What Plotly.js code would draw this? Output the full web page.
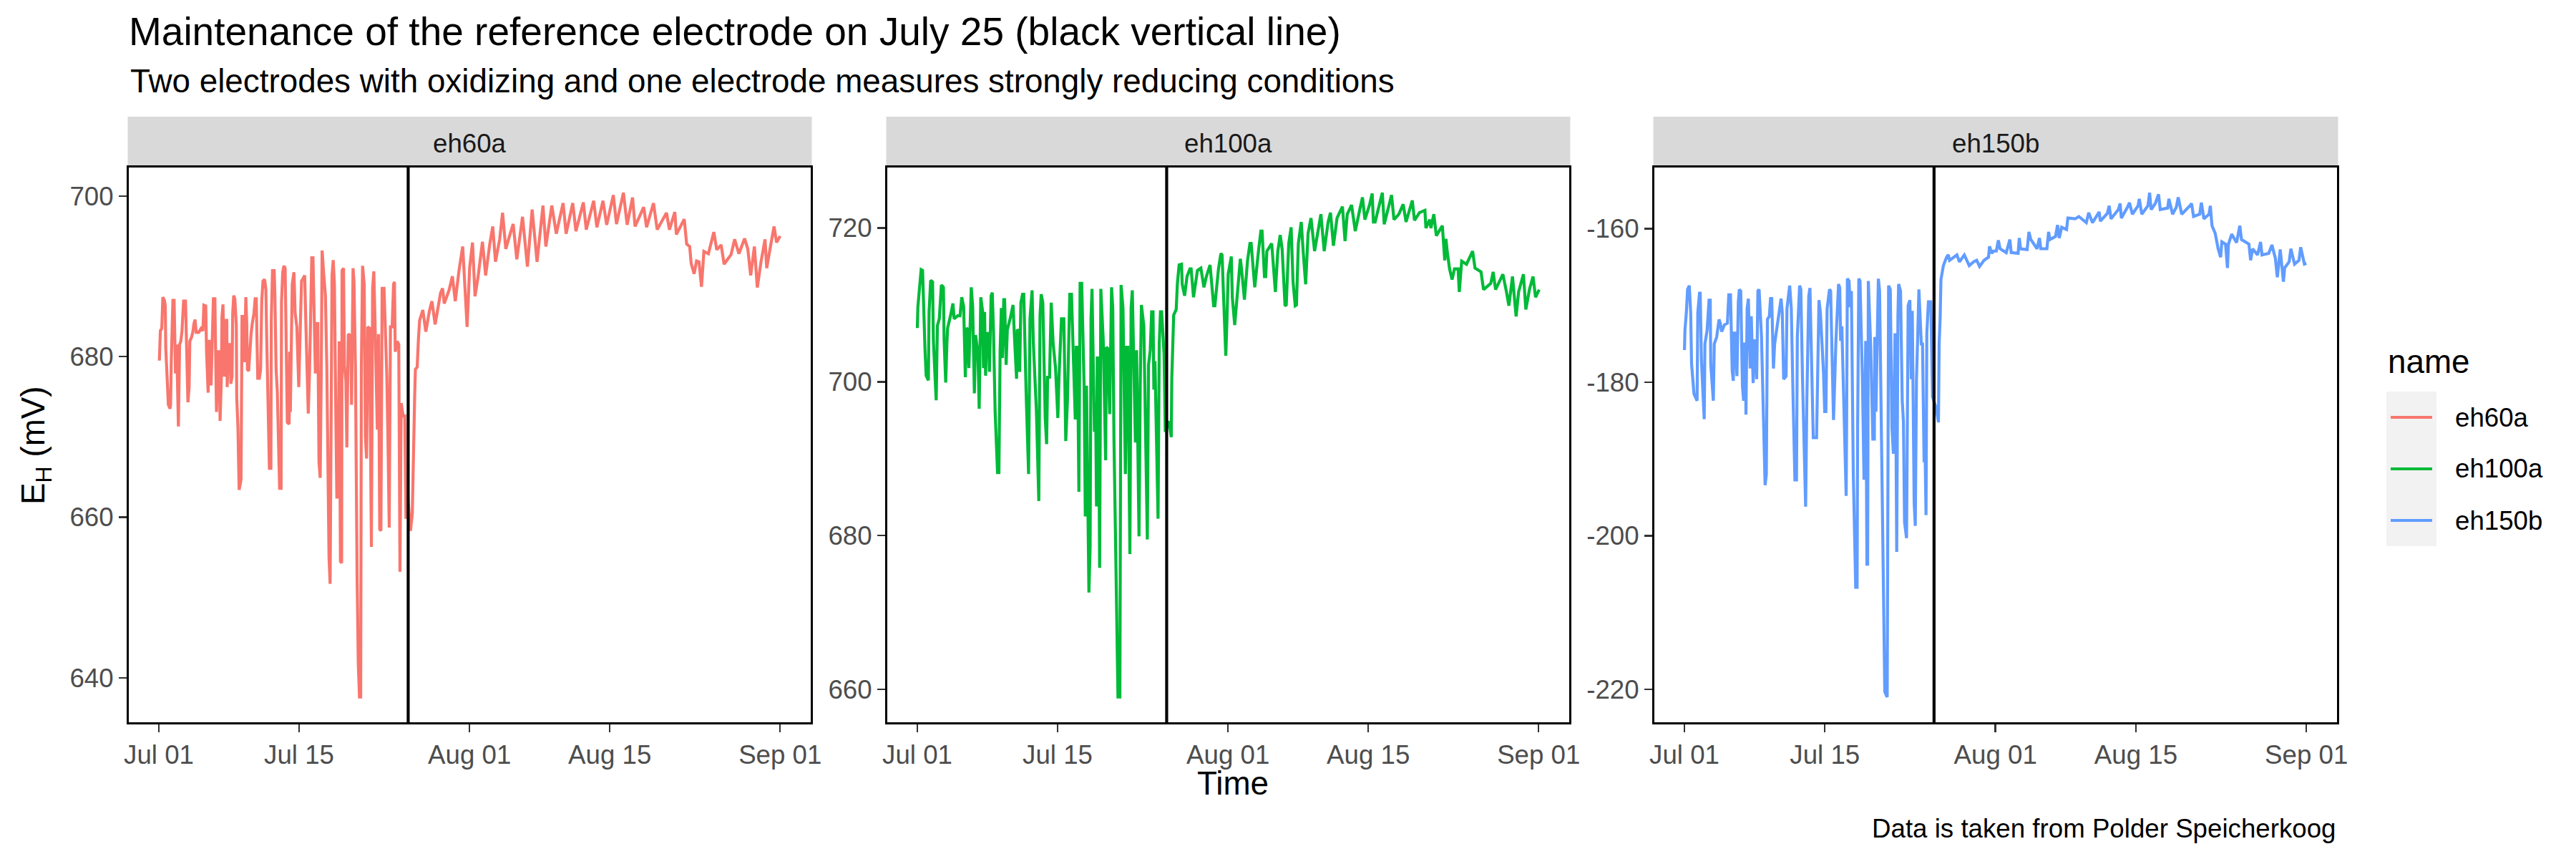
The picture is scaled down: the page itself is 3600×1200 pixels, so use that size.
<!DOCTYPE html>
<html>
<head>
<meta charset="utf-8">
<script src="https://cdn.plot.ly/plotly-3.0.1.min.js"></script>
<style>
html,body{margin:0;padding:0;background:#ffffff;}
#chart{width:3600px;height:1200px;}
</style>
</head>
<body>
<div id="chart"></div>
<script>
// ---------------- DATA ----------------
// time is given as days since 2019-07-01 00:00, values in mV
const seriesNames = ['eh60a', 'eh100a', 'eh150b'];
const tickLabels = ['Jul 01', 'Jul 15', 'Aug 01', 'Aug 15', 'Sep 01'];
const tickDays = [0, 14, 31, 45, 62];
const maintenanceDay = 24.88; // July 25, evening

const days60 = [
0.05,0.15,0.29,0.40,0.55,0.64,0.69,0.83,0.95,1.12,
1.17,1.24,1.31,1.40,1.52,1.59,1.66,1.78,1.95,2.07,
2.19,2.31,2.38,2.47,2.66,2.73,2.78,2.90,3.02,3.09,
3.26,3.38,3.50,3.61,3.73,3.97,4.21,4.40,4.49,4.68,
4.76,4.85,4.92,4.99,5.11,5.21,5.35,5.44,5.59,5.68,
5.75,5.87,5.99,6.11,6.23,6.30,6.40,6.54,6.66,6.78,
6.82,6.94,7.11,7.18,7.30,7.37,7.47,7.58,7.73,7.77,
7.89,8.01,8.20,8.30,8.44,8.54,8.68,8.77,8.84,8.96,
9.08,9.20,9.32,9.49,9.61,9.72,9.80,9.87,10.03,10.15,
10.27,10.39,10.56,10.68,10.77,10.87,10.94,11.03,11.18,11.22,
11.34,11.51,11.58,11.70,11.82,11.94,12.05,12.20,12.24,12.36,
12.48,12.60,12.72,12.82,13.00,13.05,13.12,13.24,13.31,13.48,
13.60,13.77,13.96,14.15,14.24,14.43,14.55,14.67,14.79,14.91,
15.03,15.15,15.26,15.38,15.50,15.62,15.74,15.86,15.98,16.10,
16.21,16.29,16.45,16.62,16.76,16.86,16.98,17.09,17.21,17.28,
17.40,17.52,17.64,17.76,17.88,18.00,18.12,18.24,18.28,18.43,
18.52,18.66,18.76,18.90,19.14,19.23,19.38,19.47,19.62,19.71,
19.78,19.90,20.02,20.14,20.16,20.21,20.33,20.49,20.61,20.73,
20.85,21.04,21.09,21.21,21.33,21.45,21.56,21.68,21.80,21.92,
22.04,22.16,22.28,22.47,22.63,22.75,22.87,22.99,23.11,23.28,
23.42,23.51,23.59,23.78,23.94,24.01,24.06,24.18,24.37,24.54,
24.66,24.77,
25.11,25.29,25.41,25.53,25.60,25.78,25.90,26.02,26.34,26.64,
27.00,27.25,27.57,28.11,28.31,28.48,28.97,29.29,29.58,29.95,
30.32,30.62,30.76,31.01,31.30,31.55,31.84,32.29,32.61,33.02,
33.32,33.59,34.01,34.30,34.62,35.11,35.36,35.72,36.29,36.78,
37.25,37.74,38.33,38.62,39.21,39.66,40.34,40.64,41.30,41.62,
42.36,42.65,43.39,43.71,44.32,44.69,45.35,45.67,46.36,46.73,
47.27,47.52,48.38,48.67,49.36,49.73,50.66,50.95,51.49,51.64,
52.43,52.67,52.97,53.12,53.41,53.66,53.90,54.15,54.39,54.84,
55.38,55.67,56.11,56.41,57.10,57.46,57.88,58.45,58.77,59.06,
59.43,59.72,60.09,60.49,60.66,61.03,61.39,61.64,62.00
];
const eh60a = [
679.5,683.2,683.5,687.4,687.0,686.3,681.0,676.4,674.0,673.5,
674.0,679.5,685.0,687.0,687.0,681.9,677.9,681.5,671.3,681.5,
681.9,683.2,685.4,686.9,686.9,683.2,679.0,674.3,676.2,681.9,
682.4,683.0,684.1,684.6,683.0,683.0,683.5,683.2,686.4,686.3,
680.6,676.6,675.5,681.9,681.9,676.4,681.5,687.2,687.2,677.9,
673.1,680.6,680.6,672.0,677.0,685.0,686.5,677.5,684.5,684.5,
676.2,681.5,681.5,676.6,677.5,685.4,687.6,687.2,683.9,674.9,
671.3,663.4,664.7,685.0,685.0,679.3,687.4,684.1,678.4,678.2,
681.5,682.8,684.1,685.4,687.2,687.2,681.5,677.3,677.3,678.4,
687.0,689.4,689.6,688.3,681.9,676.4,671.8,666.1,666.1,684.5,
690.7,690.7,687.6,678.4,675.7,668.2,663.6,663.6,686.8,690.5,
691.3,691.0,682.4,671.8,671.6,680.6,673.1,681.5,689.0,690.5,
685.4,683.7,676.2,685.4,689.4,689.8,690.1,684.1,677.5,672.9,
677.9,687.0,692.3,692.3,685.9,677.9,684.1,684.1,666.9,664.9,
678.8,693.2,690.3,687.6,678.8,662.7,655.0,651.7,678.8,690.1,
692.0,689.0,674.9,662.5,662.5,681.9,654.5,654.3,690.7,691.0,
678.8,677.0,668.7,682.8,682.6,674.0,691.0,689.4,678.4,654.5,
652.8,641.8,637.6,637.6,667.3,678.8,691.3,689.0,670.0,667.3,
683.7,683.5,673.5,656.3,688.5,690.6,685.0,678.0,670.9,682.8,
658.5,658.3,688.5,688.5,682.4,677.5,669.1,658.7,683.7,683.7,
689.0,689.3,680.6,681.9,681.5,668.2,653.2,674.2,672.6,672.6,
659.8,663.8,
658.3,660.4,670.8,675.2,678.4,678.7,682.1,684.5,685.8,683.1,
685.7,686.9,684.0,687.9,688.5,686.6,688.3,690.0,686.9,690.7,
693.7,687.5,683.7,691.0,694.2,687.5,689.8,694.3,690.1,694.0,
696.2,691.8,694.6,697.9,693.4,695.5,696.5,692.1,697.4,691.2,
698.3,691.8,698.8,693.7,698.8,695.3,699.1,695.3,699.1,695.6,
699.2,695.8,699.4,696.1,699.4,696.4,700.1,696.5,700.4,696.4,
699.8,696.2,698.6,696.1,699.1,695.8,697.9,695.8,698.0,695.2,
697.1,694.0,693.7,691.6,690.3,691.9,691.8,688.7,693.1,692.8,
695.5,693.3,693.9,691.5,692.7,694.6,692.8,694.7,693.4,690.1,
693.7,688.6,691.8,694.6,691.0,693.7,696.2,694.2,695.0
];

const days100 = [
0.00,0.05,0.21,0.38,0.52,0.62,0.76,0.88,1.10,1.17,
1.24,1.33,1.52,1.60,1.76,1.88,2.00,2.19,2.40,2.60,
2.67,2.83,2.95,3.02,3.31,3.55,3.67,4.02,4.26,4.43,
4.62,4.79,4.90,5.05,5.14,5.29,5.38,5.52,5.69,5.81,
6.05,6.17,6.33,6.52,6.60,6.71,6.81,6.93,7.12,7.19,
7.36,7.48,7.60,7.76,8.00,8.14,8.26,8.38,8.48,8.62,
8.71,8.86,8.98,9.26,9.55,9.67,9.90,9.98,10.14,10.21,
10.33,10.50,10.62,10.86,11.10,11.24,11.45,11.57,11.88,12.12,
12.24,12.36,12.52,12.76,12.90,13.00,13.19,13.36,13.55,13.79,
14.02,14.14,14.38,14.62,14.81,14.98,15.21,15.38,15.62,15.76,
15.86,15.98,16.12,16.24,16.40,16.64,16.76,16.88,17.12,17.24,
17.33,17.43,17.67,17.79,17.88,17.95,18.07,18.19,18.31,18.55,
18.79,18.86,19.02,19.19,19.38,19.50,19.62,19.81,19.90,20.02,
20.21,20.26,20.33,20.52,20.76,20.88,21.00,21.21,21.33,21.45,
21.64,21.76,21.88,22.12,22.24,22.36,22.60,22.83,22.95,23.07,
23.24,23.38,23.52,23.60,23.71,24.02,24.14,24.26,24.38,24.62,
24.74,
25.10,25.34,25.39,25.46,25.54,25.58,25.83,25.95,26.12,
26.36,26.43,26.67,26.91,27.20,27.32,27.56,27.95,28.29,28.60,
28.84,29.21,29.57,29.69,30.05,30.29,30.41,30.54,30.78,30.90,
31.02,31.33,31.43,31.67,31.86,32.23,32.35,32.64,32.95,33.19,
33.31,33.67,34.04,34.28,34.40,34.64,34.76,34.88,35.36,35.73,
35.97,36.21,36.40,36.69,36.81,37.06,37.30,37.49,37.71,37.83,
38.02,38.31,38.50,38.75,38.99,39.28,39.64,40.07,40.27,40.60,
40.99,41.23,41.52,41.88,42.42,42.68,42.90,43.33,43.70,44.18,
44.42,44.66,45.14,45.39,45.51,45.68,46.11,46.40,46.59,47.08,
47.32,47.56,48.04,48.48,48.77,49.39,49.61,50.10,50.65,50.75,
51.13,51.25,51.54,51.79,52.39,52.63,52.75,52.87,53.11,53.36,
53.60,53.96,54.08,54.32,54.80,55.41,55.65,56.25,56.50,57.22,
57.46,57.70,58.19,58.43,58.79,59.03,59.39,59.75,60.00,60.48,
60.72,61.08,61.44,61.69,62.05
];
const eh100a = [
707.0,709.7,712.1,714.6,714.5,709.6,704.3,700.8,700.2,709.1,
711.6,713.2,713.0,705.4,700.8,697.6,707.3,708.2,712.6,712.3,
705.4,699.9,705.0,707.0,708.6,710.2,708.2,708.6,708.6,711.0,
709.8,700.6,707.0,706.8,701.8,710.0,712.3,709.8,698.5,706.1,
703.6,696.5,711.0,709.1,701.8,709.1,700.8,706.4,706.1,701.3,
711.2,711.6,706.4,696.2,688.2,688.2,704.1,709.6,703.1,710.7,
710.7,702.2,706.8,708.2,710.0,706.4,700.4,706.8,706.6,701.3,
710.3,711.4,711.4,698.3,688.0,708.2,711.9,705.2,696.2,684.5,
708.6,711.4,710.3,695.3,691.9,700.6,700.6,710.3,705.0,701.8,
695.3,700.8,708.2,708.2,692.3,697.6,711.4,711.4,699.9,695.1,
704.5,704.5,685.7,712.8,712.8,699.5,682.5,699.5,672.6,678.6,
708.2,712.1,693.5,697.2,683.8,703.1,703.1,675.8,712.1,705.4,
689.8,704.5,704.3,695.8,712.3,709.6,692.6,675.1,663.6,659.0,
659.0,707.3,712.6,709.6,688.0,704.5,704.5,677.6,709.6,711.9,
697.6,692.1,704.1,679.9,699.5,710.0,707.3,689.8,679.5,702.2,
704.1,709.1,709.1,699.0,702.7,682.2,705.0,709.1,709.1,703.6,
693.5,
694.9,692.8,700.4,703.0,705.7,708.7,709.4,712.8,715.2,
715.3,712.7,711.2,713.7,714.7,714.7,711.0,714.5,714.8,712.3,
713.7,715.2,709.9,709.9,714.7,716.7,716.5,711.7,703.4,708.2,
714.0,716.3,711.0,707.4,710.3,716.0,714.7,710.7,715.8,718.0,
718.0,712.3,717.0,719.6,719.6,713.7,713.7,717.0,718.0,711.7,
717.0,719.1,717.3,710.0,709.9,718.0,720.1,713.0,709.9,710.0,
718.0,720.8,717.0,712.7,719.3,721.3,717.0,720.3,721.8,717.0,
720.8,722.0,717.7,721.3,722.8,718.3,721.8,723.0,719.6,722.6,
724.0,721.1,723.1,724.5,720.8,720.8,723.1,724.6,720.5,723.0,
724.3,721.1,721.8,723.1,720.8,723.6,721.0,722.0,722.3,720.0,
721.1,720.0,721.8,719.0,720.3,715.8,718.6,717.0,714.7,713.3,
714.7,714.7,711.7,715.7,715.3,717.0,714.8,714.3,712.0,712.8,
714.3,712.0,713.3,714.0,711.7,709.9,713.7,708.5,711.7,714.0,
709.4,712.0,713.7,711.0,712.0
];

const days150 = [
0.00,0.05,0.19,0.31,0.48,0.62,0.71,0.95,1.26,1.33,
1.50,1.57,1.69,1.85,1.97,2.04,2.26,2.45,2.57,2.62,
2.81,2.88,2.97,3.21,3.45,3.57,3.71,3.99,4.28,4.42,
4.59,4.76,4.87,4.95,5.06,5.23,5.37,5.47,5.61,5.78,
5.90,5.97,6.09,6.13,6.25,6.37,6.56,6.66,6.85,6.97,
7.09,7.20,7.32,7.44,7.68,7.85,8.04,8.16,8.27,8.46,
8.58,8.70,8.87,8.99,9.23,9.63,9.75,9.89,10.13,10.22,
10.49,10.65,10.82,11.01,11.17,11.25,11.48,11.60,11.77,11.96,
12.08,12.20,12.39,12.51,12.67,12.84,13.17,13.31,13.41,13.55,
13.86,13.98,14.10,14.22,14.46,14.57,14.76,14.86,15.10,15.36,
15.48,15.57,15.69,15.93,16.12,16.17,16.24,16.41,16.52,16.64,
16.83,17.07,17.21,17.26,17.38,17.50,17.74,17.90,18.07,18.19,
18.26,18.33,18.57,18.78,18.93,18.97,19.09,19.21,19.33,19.45,
19.69,19.85,19.97,20.21,20.28,20.35,20.52,20.68,20.83,20.99,
21.07,21.16,21.28,21.35,21.54,21.71,21.83,21.94,22.14,22.23,
22.30,22.47,22.61,22.71,22.90,23.01,23.13,23.25,23.37,23.61,
23.73,23.89,23.97,24.08,24.16,24.32,24.56,24.73,
25.08,25.32,
25.39,25.49,25.57,25.69,25.81,26.13,26.30,26.43,26.79,27.16,
27.41,27.90,28.39,28.83,29.13,29.42,29.87,30.31,30.41,30.65,
30.80,31.09,31.29,31.46,32.08,32.44,32.57,33.26,33.38,33.50,
34.16,34.34,34.53,35.15,35.39,35.52,36.13,36.30,36.42,36.99,
37.19,37.36,37.60,38.09,38.22,38.95,39.32,40.06,40.30,40.67,
41.34,41.46,42.15,42.34,42.52,43.25,43.43,43.55,44.16,44.36,
44.65,45.22,45.34,45.59,46.20,46.37,46.52,46.94,47.26,47.43,
48.17,48.29,48.66,49.03,49.22,49.57,50.45,50.55,50.75,51.36,
51.53,51.78,52.29,52.42,52.59,52.91,53.20,53.45,53.57,53.94,
54.13,54.23,54.55,55.04,55.36,55.53,56.27,56.44,56.64,57.13,
57.43,57.57,58.24,58.56,58.90,59.10,59.39,59.71,59.83,60.28,
60.45,60.82,61.26,61.43,61.80,62.00
];
const eh150b = [
-175.8,-173.2,-170.9,-167.9,-167.4,-170.9,-177.6,-181.5,-182.4,-170.9,
-168.4,-168.4,-177.1,-182.6,-184.8,-175.0,-173.2,-169.3,-169.3,-177.6,
-180.5,-182.4,-175.0,-174.1,-171.8,-172.3,-173.4,-172.5,-172.3,-168.6,
-168.6,-178.5,-179.8,-173.6,-173.6,-179.2,-169.5,-167.9,-168.1,-180.5,
-182.4,-175.0,-175.0,-184.2,-170.4,-169.1,-178.2,-171.4,-180.1,-174.6,
-174.6,-179.6,-168.1,-167.9,-174.1,-184.2,-193.4,-192.0,-171.8,-171.4,
-169.1,-169.1,-178.2,-175.0,-172.7,-169.1,-170.9,-179.6,-179.2,-170.4,
-167.4,-170.4,-181.5,-192.7,-192.7,-174.1,-167.4,-167.9,-179.6,-191.8,
-196.2,-182.4,-168.8,-167.7,-175.5,-187.2,-187.2,-173.2,-169.3,-170.9,
-178.7,-183.8,-183.8,-170.4,-167.9,-168.1,-180.1,-184.9,-174.6,-167.2,
-167.7,-174.6,-172.7,-183.8,-194.8,-184.2,-166.5,-166.8,-170.2,-168.1,
-191.8,-206.7,-206.7,-186.3,-166.5,-166.8,-179.6,-192.7,-174.6,-203.7,
-203.7,-166.8,-175.5,-187.4,-187.4,-174.1,-183.8,-175.0,-166.5,-168.1,
-192.5,-204.0,-220.3,-221.0,-179.6,-167.4,-167.9,-185.8,-189.3,-173.6,
-183.8,-202.1,-171.4,-167.2,-168.1,-182.4,-185.1,-198.2,-200.3,-185.1,
-170.0,-169.3,-179.6,-170.7,-195.7,-198.7,-179.6,-174.1,-167.9,-175.0,
-175.0,-190.4,-187.4,-197.3,-173.6,-169.5,-169.5,-181.9,
-183.3,-185.2,
-175.0,-171.6,-166.6,-165.7,-164.8,-163.7,-163.4,-164.1,-163.7,-163.4,
-164.3,-163.4,-164.8,-164.3,-164.1,-164.9,-164.1,-163.7,-162.3,-163.2,
-162.9,-162.9,-161.5,-162.6,-163.1,-161.4,-163.1,-163.2,-161.2,-162.6,
-162.7,-160.4,-161.4,-162.6,-161.2,-162.6,-162.6,-160.4,-161.4,-161.0,
-159.5,-161.2,-159.8,-160.1,-158.6,-158.7,-158.4,-159.2,-157.9,-159.2,
-157.8,-159.0,-158.0,-157.0,-158.7,-157.5,-156.7,-158.6,-157.2,-156.6,
-158.1,-157.0,-156.1,-158.1,-157.0,-155.3,-157.5,-156.7,-155.5,-157.5,
-157.3,-156.1,-158.1,-157.2,-155.9,-158.1,-156.9,-156.7,-158.4,-158.1,
-156.6,-158.7,-158.1,-157.0,-159.6,-160.6,-162.6,-163.7,-161.7,-162.0,
-165.1,-162.0,-160.7,-161.8,-159.6,-161.4,-162.0,-164.1,-162.6,-163.4,
-161.7,-163.4,-163.2,-162.1,-163.8,-166.3,-162.7,-166.9,-165.1,-164.3,
-162.6,-164.6,-164.1,-162.4,-164.6,-164.5
];

// ---------------- STYLE / LAYOUT ----------------
const seriesColors = ['#F8766D', '#00BA38', '#619CFF'];
const allDays = [days60, days100, days150];
const allVals = [eh60a, eh100a, eh150b];
allDays.forEach((d, i) => { if (d.length !== allVals[i].length) console.error('length mismatch', seriesNames[i], d.length, allVals[i].length); });

const W = 3600, H = 1200;
const FONT = 'Liberation Sans, Arial, Helvetica, sans-serif';
const start = Date.UTC(2019, 6, 1);
const DAY = 86400000;
const toMs = d => start + d * DAY;
const px = x => x / W;
const py = y => 1 - y / H;

const panelPx = [[180, 1133], [1240, 2193], [2312, 3266]];
const plotTop = 234, plotBottom = 1009, stripTop = 163;
const lineW = 4.2;

const traces = [];
const shapes = [];
const annotations = [];
const layout = {
  width: W, height: H,
  margin: {l: 0, r: 0, t: 0, b: 0, pad: 0},
  paper_bgcolor: '#ffffff', plot_bgcolor: '#ffffff',
  font: {family: FONT, color: '#000000'},
  showlegend: false,
  title: {
    text: 'Maintenance of the reference electrode on July 25 (black vertical line)',
    font: {family: FONT, size: 55, color: '#000000'},
    x: px(180), xref: 'paper', xanchor: 'left',
    y: py(44), yref: 'container', yanchor: 'middle'
  }
};

seriesNames.forEach((name, i) => {
  const s = i === 0 ? '' : String(i + 1);
  const vals = allVals[i];
  const vmin = Math.min(...vals), vmax = Math.max(...vals);
  const span = vmax - vmin;
  const yr = [vmin - 0.05 * span, vmax + 0.05 * span];
  const ytv = [];
  for (let v = Math.ceil(yr[0] / 20) * 20; v <= yr[1]; v += 20) ytv.push(v);

  traces.push({
    x: allDays[i].map(toMs), y: vals, name: name,
    xaxis: 'x' + s, yaxis: 'y' + s,
    type: 'scatter', mode: 'lines',
    line: {color: seriesColors[i], width: lineW},
    hoverinfo: 'skip'
  });

  const [l, r] = panelPx[i];
  layout['xaxis' + s] = {
    domain: [px(l), px(r)], anchor: 'y' + s, type: 'date',
    range: [toMs(-3.0), toMs(65.05)],
    tickmode: 'array', tickvals: tickDays.map(toMs), ticktext: tickLabels,
    ticks: 'outside', ticklen: 11, tickwidth: 2.3, tickcolor: '#333333',
    tickfont: {family: FONT, size: 36.7, color: '#4D4D4D'},
    showgrid: false, zeroline: false,
    showline: true, linecolor: '#000000', linewidth: 3, mirror: true,
    fixedrange: true
  };
  layout['yaxis' + s] = {
    domain: [py(plotBottom), py(plotTop)], anchor: 'x' + s,
    range: yr,
    tickmode: 'array', tickvals: ytv, ticktext: ytv.map(v => String(v)),
    ticks: 'outside', ticklen: 11, tickwidth: 2.3, tickcolor: '#333333',
    tickfont: {family: FONT, size: 36.7, color: '#4D4D4D'},
    showgrid: false, zeroline: false,
    showline: true, linecolor: '#000000', linewidth: 3, mirror: true,
    fixedrange: true
  };

  // maintenance line
  shapes.push({
    type: 'line', xref: 'x' + s, yref: 'y' + s + ' domain',
    x0: toMs(maintenanceDay), x1: toMs(maintenanceDay), y0: 0, y1: 1,
    line: {color: '#000000', width: lineW}, layer: 'above'
  });
  // strip
  shapes.push({
    type: 'rect', xref: 'paper', yref: 'paper',
    x0: px(l - 1.5), x1: px(r + 1.5), y0: py(plotTop - 1.5), y1: py(stripTop),
    fillcolor: '#D9D9D9', line: {width: 0}, layer: 'below'
  });
  annotations.push({
    text: name, xref: 'paper', yref: 'paper',
    x: px((l + r) / 2), y: py((stripTop + plotTop) / 2 + 2),
    xanchor: 'center', yanchor: 'middle', showarrow: false,
    font: {family: FONT, size: 36.7, color: '#1A1A1A'}
  });
});

// subtitle
annotations.push({
  text: 'Two electrodes with oxidizing and one electrode measures strongly reducing conditions',
  xref: 'paper', yref: 'paper', x: px(180), y: py(114),
  xanchor: 'left', yanchor: 'middle', showarrow: false,
  font: {family: FONT, size: 45.8, color: '#000000'}
});
// axis titles
annotations.push({
  text: 'Time', xref: 'paper', yref: 'paper', x: px(1723), y: py(1094),
  xanchor: 'center', yanchor: 'middle', showarrow: false,
  font: {family: FONT, size: 45.8, color: '#000000'}
});
annotations.push({
  text: 'E<sub>H</sub> (mV)', xref: 'paper', yref: 'paper', x: px(50), y: py(622),
  xanchor: 'center', yanchor: 'middle', showarrow: false, textangle: -90,
  font: {family: FONT, size: 45.8, color: '#000000'}
});
// caption
annotations.push({
  text: 'Data is taken from Polder Speicherkoog', xref: 'paper', yref: 'paper',
  x: px(3266), y: py(1157), xanchor: 'right', yanchor: 'middle', showarrow: false,
  font: {family: FONT, size: 36.7, color: '#000000'}
});
// legend (ggplot style)
annotations.push({
  text: 'name', xref: 'paper', yref: 'paper', x: px(3335), y: py(505),
  xanchor: 'left', yanchor: 'middle', showarrow: false,
  font: {family: FONT, size: 45.8, color: '#000000'}
});
shapes.push({
  type: 'rect', xref: 'paper', yref: 'paper',
  x0: px(3335), x1: px(3405), y0: py(763), y1: py(547),
  fillcolor: '#F2F2F2', line: {width: 0}, layer: 'below'
});
const keyY = [583, 655, 727];
seriesNames.forEach((name, i) => {
  shapes.push({
    type: 'line', xref: 'paper', yref: 'paper',
    x0: px(3341), x1: px(3399), y0: py(keyY[i]), y1: py(keyY[i]),
    line: {color: seriesColors[i], width: lineW}
  });
  annotations.push({
    text: name, xref: 'paper', yref: 'paper', x: px(3429), y: py(keyY[i]),
    xanchor: 'left', yanchor: 'middle', showarrow: false,
    font: {family: FONT, size: 36.7, color: '#000000'}
  });
});

layout.shapes = shapes;
layout.annotations = annotations;

Plotly.newPlot('chart', traces, layout, {displayModeBar: false, staticPlot: true, responsive: false});
</script>
</body>
</html>
